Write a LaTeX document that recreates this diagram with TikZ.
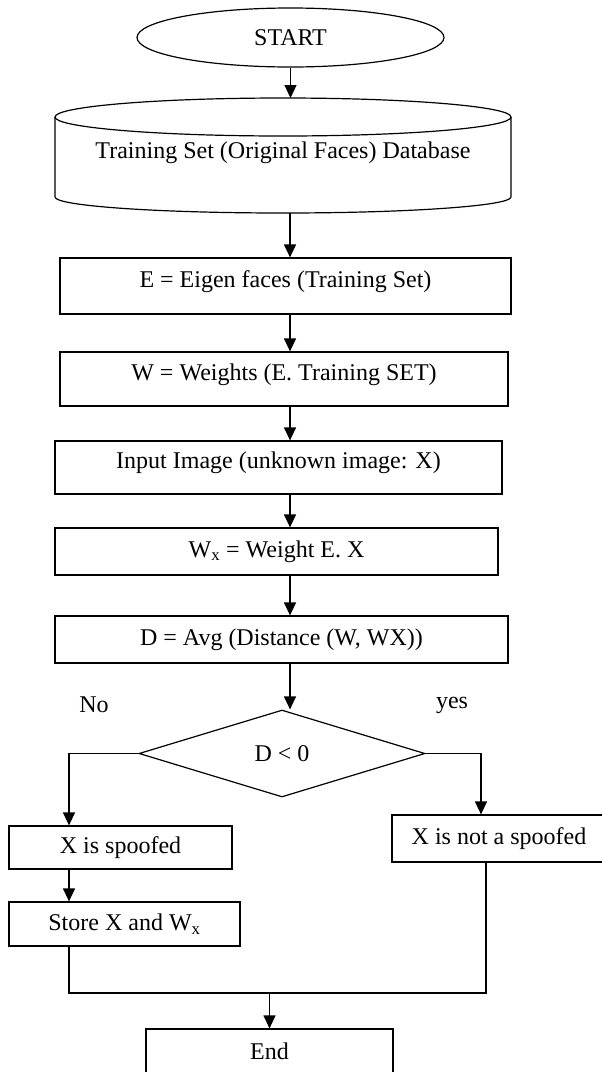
\documentclass[tikz,border=0pt]{standalone}
\usepackage{fontspec}
\setmainfont{Liberation Serif}
\usetikzlibrary{arrows.meta,shapes.geometric}

\begin{document}
\begin{tikzpicture}[x=1pt,y=-1pt,
  font=\fontsize{24}{28}\selectfont,
  box/.style={draw,line width=1.2pt,inner sep=0pt},
  upbox/.style={box,text height=17pt,text depth=15pt},
  arr/.style={-{Triangle[width=12pt,length=13pt]},line width=1.2pt},
  conn/.style={line width=1.2pt}]
  \useasboundingbox (0,0) rectangle (602,1072);
  \coordinate (axis) at (290,0);
  \coordinate (lcol) at (69,0);
  \coordinate (rcol) at (481,0);

  \node[box,ellipse,minimum width=307pt,minimum height=59pt] (start) at (290.5,37.5) {START};

  % database cylinder
  \draw[conn] (55,117) -- (55,197) arc (180:360:228pt and 16pt) -- (511,117);
  \draw[conn] (283,117) ellipse (228pt and 19pt);
  \coordinate (dbtop) at (290.5,98);
  \coordinate (dbbot) at (290,213);
  \node (db) at (283,153) {Training Set (Original Faces) Database};

  \node[upbox,minimum width=451pt,minimum height=56pt] (eig) at (285.5,286) {E = Eigen faces (Training Set)};
  \node[upbox,minimum width=448pt,minimum height=54pt] (wts) at (284,379) {W = Weights (E. Training SET)};
  \node[upbox,minimum width=447pt,minimum height=53pt] (inp) at (278.5,467.5) {Input Image (unknown image: X)};
  \node[box,minimum width=443pt,minimum height=47pt] (wx) at (276.5,551.5) {W\textsubscript{x} = Weight E. X};
  \node[box,minimum width=453pt,minimum height=47pt] (dist) at (281.5,639.5) {D = Avg (Distance (W, WX))};
  \node[box,diamond,minimum width=286pt,minimum height=87pt] (dec) at (282,753.5) {D < 0};
  \node (no) at (94,705) {No};
  \node (yes) at (452,705) {yes};
  \node[box,minimum width=223pt,minimum height=43pt] (spf) at (120.5,847.5) {X is spoofed};
  \node[box,minimum width=214pt,minimum height=47pt] (nsp) at (499,838.5) {X is not a spoofed};
  \node[box,minimum width=231pt,minimum height=44pt] (sto) at (124.5,924) {Store X and W\textsubscript{x}};
  \node[box,minimum width=247pt,minimum height=44pt] (end) at (269.5,1051) {End};

  \draw[arr] (start.south) -- (dbtop);
  \draw[arr] (dbbot) -- (eig.north -| dbbot);
  \draw[arr] (eig.south -| axis) -- (wts.north -| axis);
  \draw[arr] (wts.south -| axis) -- (inp.north -| axis);
  \draw[arr] (inp.south -| axis) -- (wx.north -| axis);
  \draw[arr] (wx.south -| axis) -- (dist.north -| axis);
  \draw[arr] (dist.south -| axis) -- (dec.north -| axis);

  \draw[arr] (dec.west) -| (spf.north -| lcol);
  \draw[arr] (dec.east) -| (nsp.north -| rcol);
  \draw[arr] (spf.south -| lcol) -- (sto.north -| lcol);
  \coordinate (join) at (486,993);
  \draw[conn] (sto.south -| lcol) |- (join) -- (nsp.south -| join);
  \draw[arr] (end.north |- join) -- (end.north);

\end{tikzpicture}
\end{document}
